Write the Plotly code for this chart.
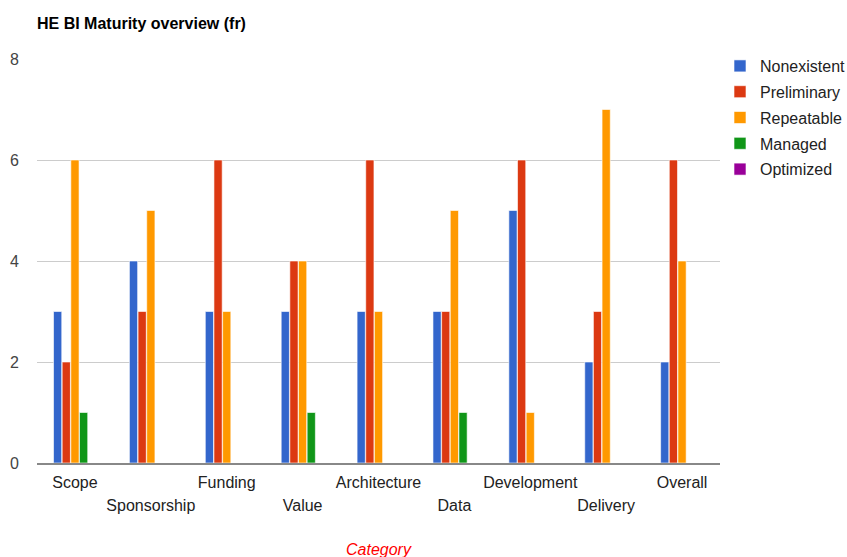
import plotly.graph_objects as go

# Maturity scores per category
categories = ["Scope", "Sponsorship", "Funding", "Value", "Architecture",
              "Data", "Development", "Delivery", "Overall"]
nonexistent = [3, 4, 3, 3, 3, 3, 5, 2, 2]
preliminary = [2, 3, 6, 4, 6, 3, 6, 3, 6]
repeatable = [6, 5, 3, 4, 3, 5, 1, 7, 4]
managed = [1, 0, 0, 1, 0, 1, 0, 0, 0]
optimized = [0, 0, 0, 0, 0, 0, 0, 0, 0]

series = [
    ("Nonexistent", nonexistent, "#3366cc"),
    ("Preliminary", preliminary, "#dc3912"),
    ("Repeatable", repeatable, "#ff9900"),
    ("Managed", managed, "#109618"),
    ("Optimized", optimized, "#990099"),
]

FONT = "Liberation Sans, Arial, sans-serif"
FS = 16

fig = go.Figure()
for name, vals, color in series:
    fig.add_trace(go.Bar(
        name=name, x=categories, y=vals,
        marker=dict(color=color, line=dict(color="white", width=0.6)),
        legendgroup=name,
    ))

# empty carrier trace so the overlay axis (lower label row) gets rendered
fig.add_trace(go.Scatter(x=categories, y=[None] * len(categories), mode="none",
                         xaxis="x2", showlegend=False, hoverinfo="skip"))

# staggered category labels: upper row on the main axis, lower row on an overlay axis
upper_row = [c if i % 2 == 0 else "" for i, c in enumerate(categories)]
lower_row = [c if i % 2 == 1 else "" for i, c in enumerate(categories)]

fig.update_layout(
    width=847, height=557,
    margin=dict(l=37, r=127, t=59, b=94, autoexpand=False),
    paper_bgcolor="white", plot_bgcolor="white",
    font=dict(family=FONT, size=FS, color="#222222"),
    barmode="group", bargap=0.43, bargroupgap=0.05,
    title=dict(text="<b>HE BI Maturity overview (fr)</b>",
               x=37 / 847, xanchor="left", y=1 - 23 / 557, yanchor="middle",
               font=dict(family=FONT, size=FS, color="#000000")),
    legend=dict(x=1.0, xanchor="left", y=1 + 10 / 404, yanchor="top",
                font=dict(family=FONT, size=FS, color="#222222"),
                tracegroupgap=2, itemwidth=30),
    xaxis=dict(type="category", categoryarray=categories, range=[-0.5, 8.5],
               tickmode="array", tickvals=categories, ticktext=upper_row,
               showgrid=False, showline=True, linecolor="#888888", linewidth=2,
               ticks="", ticklabelstandoff=4, tickfont=dict(size=FS, color="#222222")),
    xaxis2=dict(type="category", categoryarray=categories, range=[-0.5, 8.5],
                overlaying="x", anchor="y", side="bottom",
                tickmode="array", tickvals=categories, ticktext=lower_row,
                showgrid=False, showline=False, zeroline=False, ticks="",
                ticklabelstandoff=31, tickfont=dict(size=FS, color="#222222")),
    yaxis=dict(range=[0, 8], dtick=2, showgrid=True, gridcolor="#cccccc",
               gridwidth=1, zeroline=False, showline=False,
               ticklabelstandoff=17, tickfont=dict(size=FS, color="#444444")),
    annotations=[dict(text="<i>Category</i>", xref="paper", yref="paper",
                      x=0.5, y=(463 - 549) / 404, xanchor="center", yanchor="middle",
                      showarrow=False, font=dict(family=FONT, size=FS, color="#ff0000"))],
)

fig.write_html("out.html")
